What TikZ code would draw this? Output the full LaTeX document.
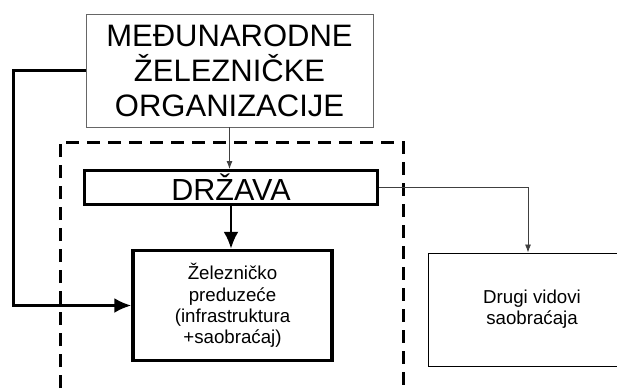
\documentclass[tikz,border=0pt]{standalone}
\usepackage{fontspec}
\setmainfont{Liberation Sans}
\usetikzlibrary{arrows.meta}

\begin{document}
\begin{tikzpicture}[
  x=1pt, y=-1pt,
  heavy/.style={-{Latex[length=17pt, width=15pt]}, line width=2.6pt, draw=black},
  light/.style={-{Latex[length=8pt, width=6pt]}, line width=.8pt, draw=black!75},
  bound/.style={line width=3pt, dash pattern=on 13pt off 8pt},
  bigbox/.style={draw, inner sep=0pt, align=center, font=\fontsize{31}{35}\selectfont},
  unit/.style={draw, inner sep=0pt, align=center, font=\fontsize{18.7}{21.3}\selectfont}
]
  \useasboundingbox (0,0) rectangle (617,388);
  \draw[bound] (60,388) -- (60,142) -- (403,142) -- (403,388);
  \node[bigbox, draw=black!60, line width=.9pt, minimum width=287pt, minimum height=113pt] (org) at (229.5,70.5) {MEĐUNARODNE\\ŽELEZNIČKE\\ORGANIZACIJE};
  \node[bigbox, line width=3pt, minimum width=293pt, minimum height=34pt, font=\fontsize{30.5}{35}\selectfont] (drzava) at (231,187.5) {DRŽAVA};
  \node[unit, line width=3.5pt, minimum width=199pt, minimum height=110pt] (preduzece) at (232.5,305.5) {Železničko\\preduzeće\\(infrastruktura\\+saobraćaj)};
  \node[unit, line width=.9pt, minimum width=208pt, minimum height=113pt] (drugi) at (532,309.5) {Drugi vidovi\\saobraćaja};

  \draw[light] (org.south) -- (org.south |- drzava.north);
  \draw[heavy] (drzava.south) -- (drzava.south |- preduzece.north);
  \draw[heavy] (org.west) -- ++(-72,0) |- (preduzece.west);
  \draw[light] (drzava.east) -| ([xshift=-4pt]drugi.north);
\end{tikzpicture}
\end{document}
